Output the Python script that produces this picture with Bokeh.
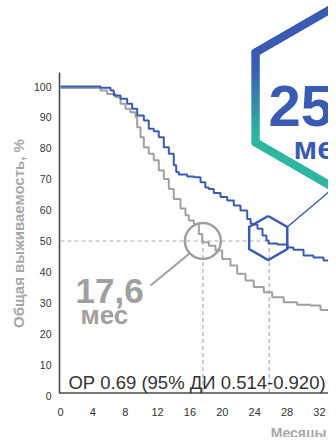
import math
from bokeh.plotting import figure
from bokeh.models import Range1d
from bokeh.core.properties import value
from bokeh.embed import file_html
from bokeh.resources import INLINE

# ---- data ----
blue_months = [0, 4.94, 6.18, 6.59, 7.42, 8.24, 8.86, 9.48, 10.30, 10.91, 11.53, 12.15, 12.77,
               13.39, 14.00, 14.3, 14.62, 15.66, 16.48, 17.31, 17.9, 18.33, 18.95, 19.78, 20.61,
               21.42, 22.25, 23.08, 23.5, 23.73, 24.35, 24.97, 25.46, 25.71, 26.82, 28.06,
               28.80, 30.04, 31.27, 32.51, 33.3, 33.75, 34.2]
blue_surv = [100, 99.6, 98.7, 97.1, 96.0, 94.4, 92.8, 90.6, 89.0, 86.3, 85.5, 83.6, 80.3,
             78.2, 74.5, 72.3, 71.5, 70.9, 70.6, 69.0, 67.3, 66.8, 65.5, 64.2, 63.1,
             61.5, 59.9, 57.1, 55.7, 55.3, 54.0, 51.8, 50.2, 49.2, 48.9, 47.9,
             47.2, 45.3, 44.7, 43.7, 42.5, 41.4, 41.4]

gray_months = [0, 4.94, 5.77, 6.80, 7.42, 8.03, 8.65, 9.27, 9.48, 9.89, 10.30, 10.91, 11.53,
               12.15, 12.77, 13.39, 14.00, 14.83, 15.45, 15.86, 16.48, 17.10, 17.52, 18.33,
               19.16, 19.99, 21.01, 21.84, 22.87, 23.89, 25.13, 26.17, 27.60, 29.26, 30.90,
               32.14, 34.2]
gray_surv = [99.5, 98.7, 97.6, 96.5, 94.4, 92.8, 91.7, 90.1, 86.8, 83.6, 80.3, 78.2, 76.1,
             72.8, 70.1, 66.8, 63.6, 60.5, 58.3, 56.6, 55.5, 52.3, 49.6, 48.5,
             46.9, 44.2, 42.1, 39.4, 37.2, 35.1, 33.4, 31.8, 30.2, 29.4, 29.1,
             27.7, 27.5]

x_ticks = [0, 4, 8, 12, 16, 20, 24, 28, 32]
y_ticks = [0, 10, 20, 30, 40, 50, 60, 70, 80, 90, 100]
median_gray = 17.6
median_blue = 25.8
median_blue_label = "25,8"
median_gray_label = "17,6"
unit_label = "мес"
hr_text = "ОР 0.69 (95% ДИ 0.514-0.920)"
y_title = "Общая выживаемость, %"
x_title = "Месяцы"

# ---- styling ----
BLUE = "#3A5BB3"
TEAL = (46, 182, 160)
BLUE_RGB = (58, 91, 181)
GRAY = "#A0A0A0"
DASH = "#ABABAB"
TXT = "#333333"
AXIS = "#4a4a4a"
TITLE = "#A8A8A8"
FONT = "Liberation Sans"

W, H = 328, 437
PX_PER_M = 8.09
PX_PER_P = 3.09
X0_PX = 60.0     # pixel position of month 0
Y0_PX = 395.0    # pixel position of 0 %


def dx(px):
    return (px - X0_PX) / PX_PER_M


def dy(py):
    return (Y0_PX - py) / PX_PER_P


p = figure(width=W, height=H, output_backend="svg", toolbar_location=None,
           x_range=Range1d(dx(0), dx(W)), y_range=Range1d(dy(H), dy(0)),
           x_axis_location=None, y_axis_location=None,
           min_border_left=0, min_border_right=0, min_border_top=0,
           min_border_bottom=0)
p.outline_line_color = None
p.xgrid.visible = False
p.ygrid.visible = False
p.background_fill_color = "white"

# axis lines
ax_y = dy(392.5)
p.segment(x0=[dx(58.5), dx(59)], y0=[ax_y, ax_y], x1=[dx(W), dx(59)], y1=[ax_y, dy(72)],
          line_color=AXIS, line_width=1.6)

# tick labels
p.text(x=x_ticks, y=[dy(411)] * len(x_ticks), text=[str(t) for t in x_ticks],
       text_font=value(FONT), text_font_size="11px", text_color=TXT,
       text_align="center", text_baseline="middle")
p.text(x=[dx(51)] * len(y_ticks), y=y_ticks, text=[str(t) for t in y_ticks],
       text_font=value(FONT), text_font_size="10.5px", text_color=TXT,
       text_align="right", text_baseline="middle")

# dashed guide lines
p.segment(x0=[dx(60), median_gray, median_blue], y0=[50, 50, 50],
          x1=[median_blue, median_gray, median_blue], y1=[50, ax_y, ax_y],
          line_color=DASH, line_width=1.2, line_dash="4 3")

# survival curves
p.step(gray_months, gray_surv, mode="after", line_color=GRAY, line_width=2)
p.step(blue_months, blue_surv, mode="after", line_color=BLUE, line_width=2)

# gray circle marker + connector
p.circle(x=[median_gray], y=[50], radius=18, radius_units="screen",
         fill_color=None, line_color=GRAY, line_width=2.5)
p.line([dx(150), dx(189)], [dy(285), dy(253)], line_color=GRAY, line_width=2)


def hexagon(cx, cy, r):
    pts = []
    for k in range(7):
        a = math.radians(90 - 60 * k)
        pts.append((cx + r * math.cos(a), cy - r * math.sin(a)))
    return pts


# small blue hexagon around the blue median
scx, scy = X0_PX + median_blue * PX_PER_M - 1, Y0_PX - 50 * PX_PER_P - 3
small = hexagon(scx, scy, 22)
p.line([dx(a) for a, b in small], [dy(b) for a, b in small], line_color=BLUE,
       line_width=2.5, line_join="miter")

# big gradient hexagon
bcx, bcy, br = 333, 97, 90
big = hexagon(bcx, bcy, br)
x0s, y0s, x1s, y1s, cols = [], [], [], [], []
N = 30
for i in range(6):
    ax_, ay_ = big[i]
    bx_, by_ = big[i + 1]
    for j in range(N):
        t0, t1 = j / N, (j + 1) / N
        xa, ya = ax_ + (bx_ - ax_) * t0, ay_ + (by_ - ay_) * t0
        xb, yb = ax_ + (bx_ - ax_) * t1, ay_ + (by_ - ay_) * t1
        ym = (ya + yb) / 2
        t = min(1, max(0, (ym - 62) / 70))
        c = tuple(int(round(BLUE_RGB[k] + (TEAL[k] - BLUE_RGB[k]) * t)) for k in range(3))
        x0s.append(dx(xa)); y0s.append(dy(ya)); x1s.append(dx(xb)); y1s.append(dy(yb))
        cols.append("#%02x%02x%02x" % c)
p.segment(x0=x0s, y0=y0s, x1=x1s, y1=y1s, line_color=cols, line_width=8, line_cap="round")

# connector small hex -> big hex
p.line([dx(small[1][0]), dx(bcx - 3)], [dy(small[1][1]), dy(bcy + br + 3)],
       line_color=BLUE, line_width=1.5)

# texts
p.text(x=[dx(268)], y=[dy(105)], text=[median_blue_label], text_font=value(FONT),
       text_font_style="bold", text_font_size="58px", text_color=BLUE,
       text_align="left", text_baseline="alphabetic")
p.text(x=[dx(293)], y=[dy(147)], text=[unit_label], text_font=value(FONT),
       text_font_style="bold", text_font_size="32px", text_color=BLUE,
       text_align="left", text_baseline="alphabetic")
p.text(x=[dx(75)], y=[dy(290)], text=[median_gray_label], text_font=value(FONT),
       text_font_style="bold", text_font_size="35px", text_color=GRAY,
       text_align="left", text_baseline="alphabetic")
p.text(x=[dx(80)], y=[dy(314)], text=[unit_label], text_font=value(FONT),
       text_font_style="bold", text_font_size="26px", text_color=GRAY,
       text_align="left", text_baseline="alphabetic")
p.text(x=[dx(196.5)], y=[dy(382)], text=[hr_text], text_font=value(FONT),
       text_font_size="18.5px", text_color=TXT,
       text_align="center", text_baseline="alphabetic")

# axis titles
p.text(x=[dx(18)], y=[dy(233)], text=[y_title], angle=math.pi / 2,
       text_font=value(FONT), text_font_style="bold", text_font_size="15px",
       text_color=TITLE, text_align="center", text_baseline="middle")
p.text(x=[dx(326)], y=[dy(432)], text=[x_title],
       text_font=value(FONT), text_font_style="bold", text_font_size="14px",
       text_color=TITLE, text_align="right", text_baseline="alphabetic")

open("out.html", "w").write(file_html(p, INLINE))
